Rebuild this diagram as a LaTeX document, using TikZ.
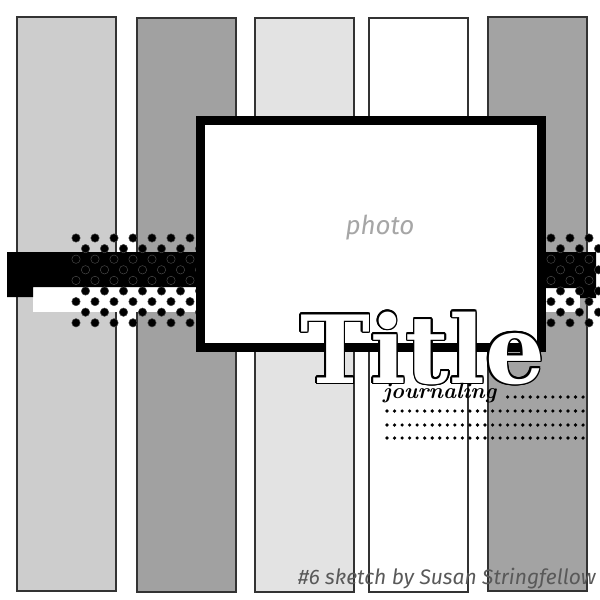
\documentclass[tikz,border=0pt]{standalone}
\usepackage{fontspec}
\usepackage{contour}
\newfontfamily\titlefont{DejaVu Serif}
\newfontfamily\handfont{Fira Sans}
\definecolor{stripA}{HTML}{CDCDCD}
\definecolor{stripB}{HTML}{A1A1A1}
\definecolor{stripC}{HTML}{E3E3E3}
\definecolor{stripE}{HTML}{A3A3A3}
\contourlength{1.6pt}

\begin{document}
\begin{tikzpicture}[x=1pt,y=-1pt,
    strip/.style={draw=black!80,line width=1.5pt},
    polkadot/.style={fill=black,draw=black!72,line width=0.5pt},
    jdot/.style={fill=black}]
      \useasboundingbox (0,0) rectangle (600,600) ;
      \fill[white] (0,0) rectangle (600,600) ;
      % the five strips
      \draw[strip,fill=stripA] (17,17) rectangle (116,591) ;
      \draw[strip,fill=stripB] (137,18) rectangle (236,592) ;
      \draw[strip,fill=stripC] (255,18) rectangle (354,592) ;
      \draw[strip,fill=white] (369,18) rectangle (468,592) ;
      \draw[strip,fill=stripE] (488,17) rectangle (587,591) ;
      % band behind the photo
      \fill[white] (33,287) rectangle (200,312) ;
      \fill[white] (546,288) rectangle (580,312) ;
      \fill[black] (7,252) -- (200,252) -- (200,287) -- (33,287) %
        -- (33,297) -- (7,297) -- cycle ;
      \fill[black] (540,252) -- (596,252) -- (596,298) -- (580,298) %
        -- (580,288) -- (540,288) -- cycle ;
      % polka dots
      \begin{scope}
        \clip (62,232) rectangle (600,331) ;
        \foreach \r in {0,...,8}{
          \pgfmathsetmacro\yy{238+10.6*\r}
          \pgfmathsetmacro\xo{mod(\r,2)*9.5}
          \foreach \c in {0,...,28}
            \draw[polkadot] (76+\xo+19*\c,\yy) circle (4.2) ;
        }
      \end{scope}
      % photo mat
      \draw[line width=9pt,fill=white] (200.5,120.5) rectangle (541.5,347.5) ;
      \node[anchor=base,inner sep=0pt,text=black!35,%
        font=\handfont\itshape\fontsize{26}{26}\selectfont] %
        (photo) at (380,234) {photo} ;
      % journaling lines
      \foreach \yy/\start in {397/16,411/0,425/0,438/0}
        \foreach \c in {\start,...,26}
          \fill[jdot] (387+7.54*\c,\yy) circle (1.8) ;
      \node[anchor=base west,inner sep=0pt,text=white,%
        font=\titlefont\bfseries\fontsize{94}{94}\selectfont] %
        (title) at (300,383) {\contour{black}{Title}} ;
      \node[anchor=base west,inner sep=0pt,%
        font=\bfseries\itshape\fontsize{22}{22}\selectfont] %
        (journal) at (383,398) {journaling} ;
      \node[anchor=base east,inner sep=0pt,text=black!65,%
        font=\handfont\itshape\fontsize{21}{21}\selectfont] %
        (credit) at (596,584) {\#6 sketch by Susan Stringfellow} ;
    \end{tikzpicture}
\end{document}
